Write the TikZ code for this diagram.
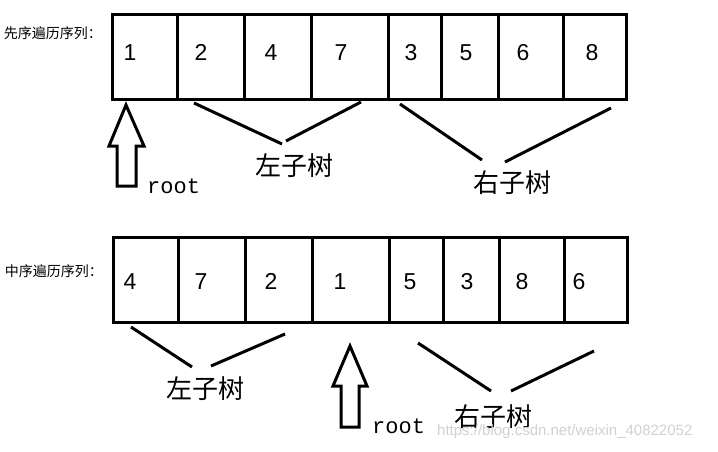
\documentclass[tikz,border=0pt]{standalone}
\usepackage{fontspec}
\setmainfont{Liberation Sans}
\newfontfamily\cjk{Noto Sans CJK SC}
\newfontfamily\monof{Liberation Mono}
\begin{document}
\begin{tikzpicture}[x=1pt,y=-1pt,
  cell/.style={draw,line width=3pt,minimum height=85pt,inner sep=0pt,anchor=north west},
  digit/.style={inner sep=0pt,anchor=base,font=\fontsize{23}{23}\selectfont},
  seqlabel/.style={inner sep=0pt,font=\cjk\fontsize{14}{14}\selectfont},
  subtree/.style={inner sep=0pt,font=\cjk\fontsize{26}{26}\selectfont},
  rootlbl/.style={inner sep=0pt,anchor=base west,font=\monof\fontsize{22}{22}\selectfont},
  brace/.style={line width=3pt},
  rootarrow/.style={line width=3pt,line join=miter}
]
\useasboundingbox (0,0) rectangle (718,451);
% ---------- top row (preorder)
\node[seqlabel] (lab1) at (53,33) {先序遍历序列：};
\foreach \n/\xa/\xb in {a1/111/176,a2/176/243,a3/243/310,a4/310/387,a5/387/440,a6/440/497,a7/497/562,a8/562/625}{
  \pgfmathsetmacro{\w}{\xb-\xa}
  \node[cell,minimum width=\w pt] (\n) at (\xa,13) {};
}
\foreach \n/\x/\t in {t1/130/1,t2/201/2,t3/271/4,t4/341/7,t5/411/3,t6/466/5,t7/523/6,t8/592/8}{
  \node[digit] (\n) at (\x,60) {\t};
}
% subtree lines top
\coordinate (l1a) at (194,103); \coordinate (l1b) at (282,144);
\coordinate (l1c) at (286,141); \coordinate (l1d) at (361,102);
\coordinate (r1a) at (400,104); \coordinate (r1b) at (482,160);
\coordinate (r1c) at (505,162); \coordinate (r1d) at (611,108);
\draw[brace] (l1a) -- (l1b);
\draw[brace] (l1c) -- (l1d);
\draw[brace] (r1a) -- (r1b);
\draw[brace] (r1c) -- (r1d);
\node[subtree] (left1) at (294,166) {左子树};
\node[subtree] (right1) at (512,183) {右子树};
% root arrow top
\draw[rootarrow] (126,105) -- (144,146) -- (136,146) -- (136,186) -- (117,186) -- (117,146) -- (109,146) -- cycle;
\node[rootlbl] (root1) at (147,193) {root};
% ---------- bottom row (inorder)
\node[seqlabel] (lab2) at (54,271) {中序遍历序列：};
\foreach \n/\xa/\xb in {b1/112/177,b2/177/244,b3/244/311,b4/311/388,b5/388/442,b6/442/498,b7/498/563,b8/563/626}{
  \pgfmathsetmacro{\w}{\xb-\xa}
  \node[cell,minimum width=\w pt] (\n) at (\xa,236) {};
}
\foreach \n/\x/\t in {s1/130/4,s2/201/7,s3/271/2,s4/340/1,s5/410/5,s6/467/3,s7/522/8,s8/579/6}{
  \node[digit] (\n) at (\x,289) {\t};
}
\coordinate (l2a) at (131,327); \coordinate (l2b) at (192,367);
\coordinate (l2c) at (211,366); \coordinate (l2d) at (285,334);
\coordinate (r2a) at (418,343); \coordinate (r2b) at (491,391);
\coordinate (r2c) at (511,391); \coordinate (r2d) at (594,351);
\draw[brace] (l2a) -- (l2b);
\draw[brace] (l2c) -- (l2d);
\draw[brace] (r2a) -- (r2b);
\draw[brace] (r2c) -- (r2d);
\node[subtree] (left2) at (205,389) {左子树};
\node[subtree] (right2) at (493,417) {右子树};
\draw[rootarrow] (350,346) -- (367,386) -- (359,386) -- (359,427) -- (341,427) -- (341,386) -- (333,386) -- cycle;
\node[rootlbl] (root2) at (372,433) {root};
% watermark
\node[inner sep=0pt,anchor=west,text=black!18,font=\fontsize{15}{15}\selectfont] (wm) at (437,432) {https://blog.csdn.net/weixin\_40822052};
\end{tikzpicture}
\end{document}
